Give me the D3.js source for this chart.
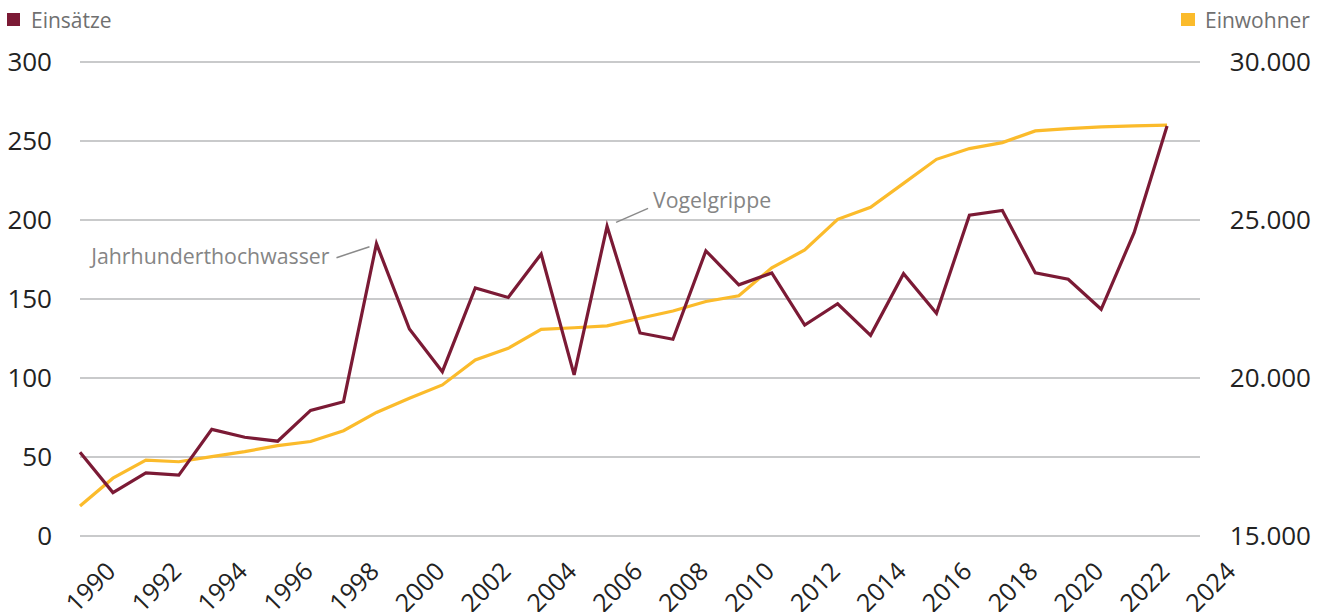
<!DOCTYPE html>
<html>
<head>
<meta charset="utf-8">
<script src="https://cdn.jsdelivr.net/npm/d3@7"></script>
<style>
  html, body { margin: 0; padding: 0; background: #fff; }
  svg { display: block; font-family: "Open Sans", sans-serif; }
</style>
</head>
<body>
<svg id="chart" width="1327" height="612"></svg>
<script>
const years = d3.range(1990, 2024);
const einsaetze = [53, 27.5, 40, 38.5, 67.5, 62.5, 60, 79.5, 85, 185, 131, 104, 157, 151, 178.5,
  102, 196, 128.5, 124.5, 180.5, 159, 166.5, 133.5, 147, 127, 166, 141, 203, 206, 166.5, 162.5, 143.5, 192, 259.5];
const einwohner = [15950, 16830, 17400, 17350, 17510, 17670, 17860, 17990, 18330, 18910, 19360, 19780,
  20570, 20940, 21540, 21590, 21650, 21890, 22120, 22420, 22600, 23490, 24050, 25020, 25400, 26160,
  26920, 27260, 27450, 27820, 27890, 27950, 27980, 28000];
const leftTicks = [0, 50, 100, 150, 200, 250, 300];
const rightTicks = [15000, 20000, 25000, 30000];
const xTicks = d3.range(1990, 2025, 2);
const annotations = [
  { year: 1999, text: "Jahrhunderthochwasser" },
  { year: 2006, text: "Vogelgrippe" }
];
const legendItems = [
  { label: "Einsätze", color: "#7b1a35" },
  { label: "Einwohner", color: "#fbbb2b" }
];

const svg = d3.select("#chart");
const x = d3.scaleLinear().domain([1990, 2024]).range([80, 1200]);
const yL = d3.scaleLinear().domain([0, 300]).range([536, 62]);
const yR = d3.scaleLinear().domain([15000, 30000]).range([536, 62]);
const fmtDE = d3.formatLocale({ decimal: ",", thousands: ".", grouping: [3], currency: ["", " €"] }).format(",.0f");

// gridlines
svg.append("g").selectAll("line").data(leftTicks).join("line")
  .attr("x1", x(1990)).attr("x2", x(2024))
  .attr("y1", d => yL(d)).attr("y2", d => yL(d))
  .attr("stroke", "#c9cacb").attr("stroke-width", 2);

// left axis labels
svg.append("g").selectAll("text").data(leftTicks).join("text")
  .attr("x", 52).attr("y", d => yL(d)).attr("dy", "0.36em")
  .attr("text-anchor", "end").attr("font-size", 26).attr("fill", "#222")
  .text(d => d);

// right axis labels
svg.append("g").selectAll("text").data(rightTicks).join("text")
  .attr("x", 1311).attr("y", d => yR(d)).attr("dy", "0.36em")
  .attr("text-anchor", "end").attr("font-size", 26).attr("fill", "#222")
  .text(d => fmtDE(d));

// x labels
svg.append("g").selectAll("text").data(xTicks).join("text")
  .attr("transform", d => `translate(${x(d) + 37},573) rotate(-45)`)
  .attr("text-anchor", "end").attr("font-size", 25).attr("fill", "#222")
  .text(d => d);

// lines
const lineL = d3.line().x((d, i) => x(years[i])).y(d => yL(d));
const lineR = d3.line().x((d, i) => x(years[i])).y(d => yR(d));
svg.append("path").datum(einwohner).attr("d", lineR)
  .attr("fill", "none").attr("stroke", legendItems[1].color).attr("stroke-width", 3.2)
  .attr("stroke-linejoin", "miter");
svg.append("path").datum(einsaetze).attr("d", lineL)
  .attr("fill", "none").attr("stroke", legendItems[0].color).attr("stroke-width", 3.2)
  .attr("stroke-linejoin", "miter");

// annotations
const a1 = annotations[0], a2 = annotations[1];
const p1 = [x(a1.year), yL(einsaetze[years.indexOf(a1.year)])];
svg.append("line").attr("x1", p1[0] - 40).attr("y1", p1[1] + 14).attr("x2", p1[0] - 7).attr("y2", p1[1] + 3)
  .attr("stroke", "#8a8a8a").attr("stroke-width", 1.5);
svg.append("text").attr("x", p1[0] - 47).attr("y", p1[1] + 20).attr("text-anchor", "end")
  .attr("font-size", 21.3).attr("fill", "#858585").text(a1.text);
const p2 = [x(a2.year), yL(einsaetze[years.indexOf(a2.year)])];
svg.append("line").attr("x1", p2[0] + 9).attr("y1", p2[1] - 4).attr("x2", p2[0] + 41).attr("y2", p2[1] - 18)
  .attr("stroke", "#8a8a8a").attr("stroke-width", 1.5);
svg.append("text").attr("x", p2[0] + 46).attr("y", p2[1] - 18).attr("text-anchor", "start")
  .attr("font-size", 21.3).attr("fill", "#858585").text(a2.text);

// legends
const lg = svg.append("g");
lg.append("rect").attr("x", 7).attr("y", 13).attr("width", 13).attr("height", 13).attr("fill", legendItems[0].color);
lg.append("text").attr("x", 31).attr("y", 27.5).attr("font-size", 21).attr("fill", "#707070").text(legendItems[0].label);
lg.append("rect").attr("x", 1181).attr("y", 13).attr("width", 14).attr("height", 13).attr("fill", legendItems[1].color);
lg.append("text").attr("x", 1205).attr("y", 27.5).attr("font-size", 21).attr("fill", "#707070").text(legendItems[1].label);
</script>
</body>
</html>
